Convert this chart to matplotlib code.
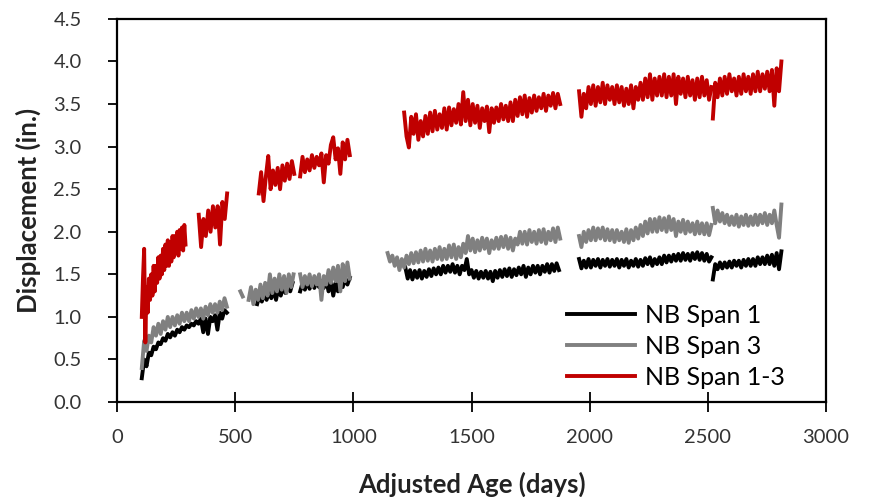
import numpy as np
import matplotlib
matplotlib.use("Agg")
import matplotlib.pyplot as plt

plt.rcParams['font.family'] = ['Lato', 'DejaVu Sans']

# each segment: (first day, step in days, displacement values in inches)
span1_segments = [
    (105, 10, [0.28, 0.5, 0.42, 0.58, 0.55, 0.65, 0.62, 0.7, 0.68, 0.75, 0.72, 0.8, 0.76, 0.82, 0.78, 0.85,
               0.82, 0.88, 0.85, 0.9, 0.88, 0.92, 0.9, 0.95, 0.92, 0.98, 0.82, 0.98, 0.8, 1.0, 0.95, 1.02,
               0.85, 1.05, 0.98, 1.08, 1.05]),
    (593, 10, [1.15, 1.25, 1.18, 1.28, 1.2, 1.3, 1.22, 1.32, 1.2, 1.35, 1.25, 1.35, 1.28, 1.38, 1.3, 1.4]),
    (775, 10, [1.3, 1.4, 1.32, 1.42, 1.33, 1.42, 1.34, 1.43, 1.35, 1.42, 1.34, 1.45, 1.3, 1.42, 1.25, 1.4,
               1.3, 1.42, 1.35, 1.45, 1.38, 1.46]),
    (1220, 10, [1.58, 1.45, 1.55, 1.44, 1.54, 1.46, 1.55, 1.45, 1.54, 1.47, 1.56, 1.48, 1.57, 1.5, 1.58, 1.5,
                1.6, 1.52, 1.6, 1.53, 1.62, 1.52, 1.6, 1.5, 1.6, 1.55, 1.68, 1.5, 1.55, 1.46, 1.54, 1.45,
                1.53, 1.46, 1.54, 1.45, 1.53, 1.42, 1.54, 1.46, 1.55, 1.47, 1.56, 1.48, 1.57, 1.47, 1.56, 1.49,
                1.58, 1.5, 1.6, 1.47, 1.58, 1.5, 1.6, 1.52, 1.6, 1.5, 1.6, 1.53, 1.62, 1.52, 1.62, 1.54,
                1.63, 1.55]),
    (1955, 10, [1.68, 1.57, 1.66, 1.58, 1.68, 1.58, 1.67, 1.6, 1.68, 1.58, 1.67, 1.6, 1.68, 1.59, 1.67, 1.6,
                1.68, 1.58, 1.67, 1.6, 1.68, 1.58, 1.66, 1.6, 1.68, 1.59, 1.67, 1.6, 1.69, 1.62, 1.7, 1.6,
                1.68, 1.62, 1.7, 1.62, 1.72, 1.64, 1.72, 1.65, 1.73, 1.66, 1.74, 1.66, 1.75, 1.67, 1.74, 1.66,
                1.75, 1.68, 1.76, 1.67, 1.75, 1.66, 1.74, 1.65, 1.7]),
    (2521, 10, [1.44, 1.62, 1.56, 1.64, 1.57, 1.64, 1.58, 1.65, 1.58, 1.66, 1.6, 1.66, 1.58, 1.67, 1.6, 1.68,
                1.6, 1.68, 1.6, 1.7, 1.62, 1.7, 1.62, 1.72, 1.62, 1.73, 1.6, 1.75, 1.56, 1.77]),
]

span3_segments = [
    (105, 10, [0.4, 0.72, 0.6, 0.78, 0.7, 0.88, 0.78, 0.92, 0.8, 0.95, 0.85, 1.0, 0.88, 1.0, 0.9, 1.02,
               0.92, 1.05, 0.95, 1.05, 0.95, 1.08, 0.98, 1.1, 1.0, 1.1, 0.98, 1.12, 1.02, 1.15, 1.05, 1.15,
               1.05, 1.18, 1.08, 1.22, 1.12]),
    (522, 10, [1.3, 1.24]),
    (557, 10, [1.2, 1.35, 1.15, 1.32, 1.2, 1.38, 1.22, 1.4, 1.25, 1.5, 1.28, 1.45, 1.3, 1.5, 1.32, 1.48,
               1.28, 1.5, 1.35, 1.5]),
    (775, 10, [1.5, 1.35, 1.48, 1.38, 1.5, 1.36, 1.48, 1.38, 1.5, 1.2, 1.48, 1.38, 1.55, 1.4, 1.58, 1.42,
               1.6, 1.3, 1.62, 1.42, 1.64, 1.45]),
    (1145, 10, [1.75, 1.65, 1.72, 1.6, 1.7, 1.55, 1.68, 1.58, 1.72, 1.62, 1.75, 1.63, 1.76, 1.64, 1.78, 1.65,
                1.8, 1.66, 1.78, 1.65, 1.8, 1.68, 1.82, 1.67, 1.8, 1.68, 1.84, 1.7, 1.85, 1.68, 1.82, 1.7,
                1.86, 1.75, 1.95, 1.78, 1.92, 1.76, 1.9, 1.78, 1.93, 1.8, 1.92, 1.75, 1.9, 1.8, 1.93, 1.8,
                1.94, 1.82, 1.95, 1.8, 1.93, 1.78, 1.92, 1.85, 2.0, 1.86, 2.0, 1.85, 2.02, 1.88, 2.0, 1.86,
                2.02, 1.88, 2.03, 1.86, 2.0, 1.9, 2.04, 1.88, 2.05, 1.92]),
    (1955, 10, [1.95, 1.82, 2.0, 1.88, 2.02, 1.9, 2.05, 1.9, 2.04, 1.92, 2.05, 1.9, 2.03, 1.9, 2.02, 1.88,
                2.02, 1.9, 2.0, 1.88, 2.03, 1.87, 2.02, 1.9, 2.05, 1.92, 2.08, 1.95, 2.12, 1.98, 2.15, 2.0,
                2.15, 2.0, 2.17, 2.02, 2.16, 2.0, 2.18, 2.02, 2.15, 1.95, 2.12, 2.0, 2.14, 1.98, 2.12, 2.0,
                2.1, 1.97, 2.12, 1.98, 2.1, 1.97, 2.1, 1.96, 2.08]),
    (2521, 10, [2.28, 2.1, 2.25, 2.12, 2.22, 2.1, 2.2, 2.08, 2.18, 2.08, 2.2, 2.06, 2.18, 2.08, 2.2, 2.07,
                2.18, 2.08, 2.2, 2.08, 2.2, 2.1, 2.22, 2.08, 2.2, 2.1, 2.25, 2.08, 1.93, 2.32]),
]

span13_segments = [
    (105, 5, [1.0, 1.45, 1.8, 0.7, 1.35, 1.05, 1.45, 1.2, 1.5, 1.25, 1.6, 1.3, 1.6, 1.4, 1.7, 1.45,
              1.72, 1.5, 1.8, 1.55, 1.85, 1.6, 1.9, 1.6, 1.88, 1.65, 1.95, 1.7, 1.95, 1.75, 2.0, 1.72,
              2.02, 1.8, 2.05, 1.78, 2.08, 1.85]),
    (346, 10, [2.2, 1.82, 2.15, 1.95, 2.25, 2.0, 2.3, 2.05, 2.3, 1.85, 2.35, 2.15, 2.45]),
    (600, 10, [2.45, 2.7, 2.36, 2.65, 2.89, 2.5, 2.72, 2.55, 2.75, 2.5, 2.78, 2.6, 2.8, 2.62, 2.83, 2.68]),
    (775, 10, [2.65, 2.88, 2.7, 2.85, 2.72, 2.9, 2.75, 2.88, 2.78, 2.92, 2.58, 2.9, 2.8, 3.02, 3.11, 2.85,
               2.98, 2.68, 3.05, 2.85, 3.08, 2.9]),
    (1215, 10, [3.4, 3.12, 2.99, 3.35, 3.15, 3.38, 3.08, 3.3, 3.12, 3.36, 3.15, 3.4, 3.18, 3.42, 3.2, 3.38,
                3.22, 3.45, 3.2, 3.46, 3.25, 3.44, 3.28, 3.5, 3.26, 3.64, 3.3, 3.55, 3.25, 3.5, 3.28, 3.48,
                3.22, 3.45, 3.3, 3.47, 3.17, 3.45, 3.28, 3.46, 3.3, 3.5, 3.32, 3.48, 3.3, 3.52, 3.3, 3.55,
                3.36, 3.58, 3.38, 3.6, 3.35, 3.57, 3.4, 3.6, 3.42, 3.58, 3.45, 3.62, 3.42, 3.6, 3.48, 3.63,
                3.45, 3.62, 3.5]),
    (1955, 10, [3.65, 3.35, 3.62, 3.45, 3.7, 3.5, 3.72, 3.48, 3.7, 3.52, 3.75, 3.5, 3.72, 3.55, 3.7, 3.5,
                3.72, 3.52, 3.7, 3.48, 3.68, 3.5, 3.72, 3.45, 3.7, 3.55, 3.75, 3.55, 3.8, 3.58, 3.85, 3.55,
                3.8, 3.6, 3.82, 3.6, 3.85, 3.58, 3.82, 3.6, 3.85, 3.5, 3.82, 3.62, 3.8, 3.58, 3.82, 3.6,
                3.78, 3.55, 3.8, 3.58, 3.82, 3.6, 3.78, 3.55, 3.7]),
    (2521, 10, [3.33, 3.75, 3.58, 3.8, 3.6, 3.82, 3.62, 3.85, 3.65, 3.8, 3.6, 3.82, 3.62, 3.85, 3.65, 3.82,
                3.62, 3.85, 3.65, 3.88, 3.65, 3.85, 3.68, 3.88, 3.65, 3.9, 3.48, 3.92, 3.65, 4.0]),
]

series_labels = ['NB Span 1', 'NB Span 3', 'NB Span 1-3']
series_colors = ['#000000', '#808080', '#C00000']
x_ticks = [0, 500, 1000, 1500, 2000, 2500, 3000]
y_ticks = [0.0, 0.5, 1.0, 1.5, 2.0, 2.5, 3.0, 3.5, 4.0, 4.5]


def join_segments(segments):
    # NaN between segments leaves the data gaps empty
    days, vals = [], []
    for start, step, values in segments:
        days.extend(start + step * np.arange(len(values)))
        vals.extend(values)
        days.append(np.nan)
        vals.append(np.nan)
    return np.array(days), np.array(vals)


fig = plt.figure(figsize=(8.69, 4.97), dpi=100)
ax = fig.add_axes([0.1346, 0.191, 0.816, 0.771])

for segs, label, color in zip([span1_segments, span3_segments, span13_segments], series_labels, series_colors):
    d, v = join_segments(segs)
    ax.plot(d, v, color=color, lw=2.8, label=label)

ax.set_xlim(0, 3000)
ax.set_ylim(0, 4.5)
ax.set_xticks(x_ticks)
ax.set_yticks(y_ticks)
ax.set_yticklabels([f'{t:.1f}' for t in y_ticks])

for s in ax.spines.values():
    s.set_linewidth(1.6)
ax.tick_params(axis='x', direction='inout', length=15, width=1.3, labelsize=14.5, pad=12)
ax.tick_params(axis='y', direction='out', length=6.5, width=1.3, labelsize=14.5, pad=19)
for lab in ax.get_xticklabels() + ax.get_yticklabels():
    lab.set_color('#333333')

ax.set_xlabel('Adjusted Age (days)', fontsize=18.5, fontweight='bold', color='#222222', labelpad=18)
ax.set_ylabel('Displacement (in.)', fontsize=18.5, fontweight='bold', color='#222222', labelpad=9)

ax.legend(loc='lower left', bbox_to_anchor=(0.603, -0.025), frameon=False, fontsize=18,
          handlelength=2.7, labelspacing=0.33, handletextpad=0.4)

fig.savefig('out.png', dpi=100)
